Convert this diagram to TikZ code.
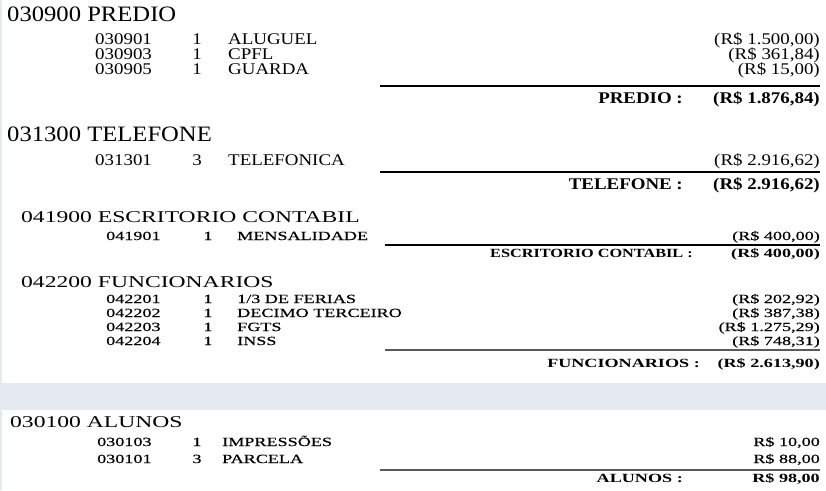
\documentclass[tikz,border=0pt]{standalone}
\usepackage{fontspec}
\setmainfont{Liberation Serif}
\newfontfamily\hdrA[FakeStretch=1.12]{Liberation Serif}
\newfontfamily\rowA[FakeStretch=1.16]{Liberation Serif}
\newfontfamily\hdrB[FakeStretch=1.43]{Liberation Serif}
\newfontfamily\rowB[FakeStretch=1.45,FakeBold=0.4]{Liberation Serif}
\newfontfamily\totB[FakeStretch=1.45]{Liberation Serif}
\newfontfamily\totBn[FakeStretch=1.3]{Liberation Serif}
\definecolor{bandcol}{RGB}{228,234,240}
\definecolor{edgecol}{RGB}{226,233,242}
\definecolor{rulegray}{RGB}{90,90,90}
\begin{document}
\begin{tikzpicture}[x=1pt,y=-1pt,
  hdrA/.style={font=\hdrA\fontsize{22}{22}\selectfont,anchor=base west,inner sep=0pt},
  codeA/.style={font=\rowA\fontsize{16.3}{16}\selectfont,anchor=base west,inner sep=0pt},
  cntA/.style={font=\rowA\fontsize{16.3}{16}\selectfont,anchor=base,inner sep=0pt},
  valA/.style={font=\rowA\fontsize{16.3}{16}\selectfont,anchor=base east,inner sep=0pt},
  totA/.style={font=\rowA\bfseries\fontsize{16.3}{16}\selectfont,anchor=base east,inner sep=0pt},
  hdrB/.style={font=\hdrB\fontsize{16.5}{16}\selectfont,anchor=base west,inner sep=0pt},
  codeB/.style={font=\rowB\fontsize{12.5}{12}\selectfont,anchor=base west,inner sep=0pt},
  cntB/.style={font=\rowB\fontsize{12.5}{12}\selectfont,anchor=base,inner sep=0pt},
  valB/.style={font=\rowB\fontsize{12.5}{12}\selectfont,anchor=base east,inner sep=0pt},
  totB/.style={font=\totB\bfseries\fontsize{12.5}{12}\selectfont,anchor=base east,inner sep=0pt},
  totBn/.style={font=\totBn\bfseries\fontsize{12.5}{12}\selectfont,anchor=base east,inner sep=0pt},
  rulebk/.style={line width=2pt,black},
  rulegr/.style={line width=1.6pt,rulegray}]
\useasboundingbox (0,0) rectangle (826,490);
\fill[white] (0,0) rectangle (826,490);
\fill[edgecol] (0,0) rectangle (2,490);
\fill[bandcol] (0,383) rectangle (826,410);

% PREDIO
\node[hdrA] (h1) at (7,21) {030900 PREDIO};
\node[codeA] (c11) at (95,44) {030901};
\node[cntA] (n11) at (197,44) {1};
\node[codeA] (d11) at (228,44) {ALUGUEL};
\node[valA] (v11) at (820,44) {(R\$ 1.500,00)};
\node[codeA] (c12) at (95,59) {030903};
\node[cntA] (n12) at (197,59) {1};
\node[codeA] (d12) at (228,59) {CPFL};
\node[valA] (v12) at (820,59) {(R\$ 361,84)};
\node[codeA] (c13) at (95,74) {030905};
\node[cntA] (n13) at (197,74) {1};
\node[codeA] (d13) at (228,74) {GUARDA};
\node[valA] (v13) at (820,74) {(R\$ 15,00)};
\coordinate (r1a) at (380,86);
\coordinate (r1b) at (820,86);
\draw[rulebk] (r1a) -- (r1b);
\node[totA] (t1) at (683,103) {PREDIO :};
\node[totA] (s1) at (820,103) {(R\$ 1.876,84)};

% TELEFONE
\node[hdrA] (h2) at (7,141) {031300 TELEFONE};
\node[codeA] (c21) at (95,165) {031301};
\node[cntA] (n21) at (197,165) {3};
\node[codeA] (d21) at (228,165) {TELEFONICA};
\node[valA] (v21) at (820,165) {(R\$ 2.916,62)};
\coordinate (r2a) at (380,172);
\coordinate (r2b) at (820,172);
\draw[rulebk] (r2a) -- (r2b);
\node[totA] (t2) at (683,189) {TELEFONE :};
\node[totA] (s2) at (820,189) {(R\$ 2.916,62)};

% ESCRITORIO CONTABIL
\node[hdrB] (h3) at (21,222) {041900 ESCRITORIO CONTABIL};
\node[codeB] (c31) at (106,240) {041901};
\node[cntB] (n31) at (208,240) {1};
\node[codeB] (d31) at (237,240) {MENSALIDADE};
\node[valB] (v31) at (820,240) {(R\$ 400,00)};
\coordinate (r3a) at (385,245);
\coordinate (r3b) at (820,245);
\draw[rulebk,line width=1.6pt] (r3a) -- (r3b);
\node[totBn] (t3) at (693,257) {ESCRITORIO CONTABIL :};
\node[totB] (s3) at (820,257) {(R\$ 400,00)};

% FUNCIONARIOS
\node[hdrB] (h4) at (21,287) {042200 FUNCIONARIOS};
\node[codeB] (c41) at (106,303) {042201};
\node[cntB] (n41) at (208,303) {1};
\node[codeB] (d41) at (237,303) {1/3 DE FERIAS};
\node[valB] (v41) at (820,303) {(R\$ 202,92)};
\node[codeB] (c42) at (106,317) {042202};
\node[cntB] (n42) at (208,317) {1};
\node[codeB] (d42) at (237,317) {DECIMO TERCEIRO};
\node[valB] (v42) at (820,317) {(R\$ 387,38)};
\node[codeB] (c43) at (106,331) {042203};
\node[cntB] (n43) at (208,331) {1};
\node[codeB] (d43) at (237,331) {FGTS};
\node[valB] (v43) at (820,331) {(R\$ 1.275,29)};
\node[codeB] (c44) at (106,345) {042204};
\node[cntB] (n44) at (208,345) {1};
\node[codeB] (d44) at (237,345) {INSS};
\node[valB] (v44) at (820,345) {(R\$ 748,31)};
\coordinate (r4a) at (385,350);
\coordinate (r4b) at (820,350);
\draw[rulegr] (r4a) -- (r4b);
\node[totB] (t4) at (700,367) {FUNCIONARIOS :};
\node[totB] (s4) at (820,367) {(R\$ 2.613,90)};

% ALUNOS
\node[hdrB] (h5) at (10,427) {030100 ALUNOS};
\node[codeB] (c51) at (97,446) {030103};
\node[cntB] (n51) at (197,446) {1};
\node[codeB] (d51) at (222,446) {IMPRESSÕES};
\node[valB] (v51) at (820,446) {R\$ 10,00};
\node[codeB] (c52) at (97,463) {030101};
\node[cntB] (n52) at (197,463) {3};
\node[codeB] (d52) at (222,463) {PARCELA};
\node[valB] (v52) at (820,463) {R\$ 88,00};
\coordinate (r5a) at (380,470);
\coordinate (r5b) at (820,470);
\draw[rulegr,line width=2.4pt] (r5a) -- (r5b);
\node[totB] (t5) at (683,482) {ALUNOS :};
\node[totB] (s5) at (820,482) {R\$ 98,00};
\end{tikzpicture}
\end{document}
